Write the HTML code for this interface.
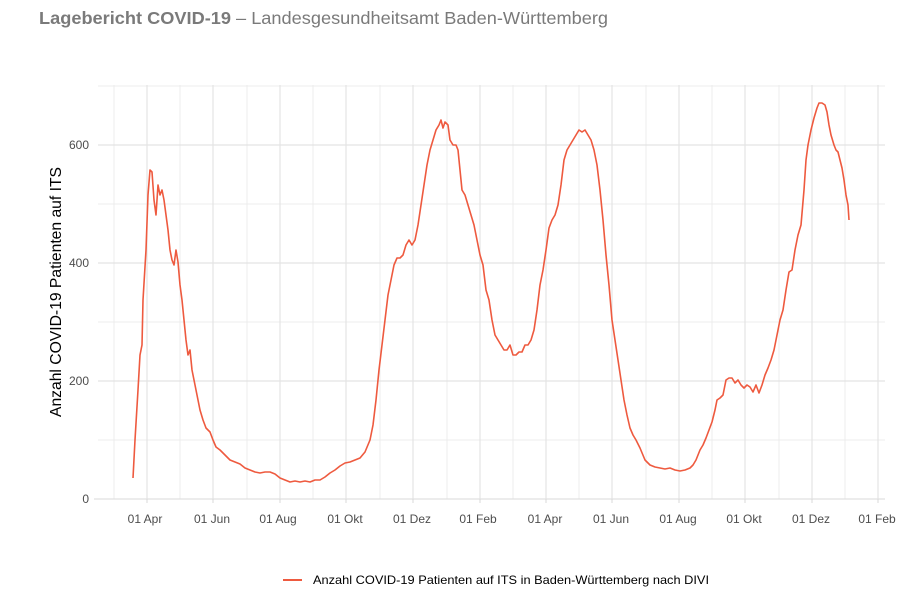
<!DOCTYPE html>
<html><head><meta charset="utf-8"><style>
html,body{margin:0;padding:0;background:#fff;}
svg{display:block;}
</style></head><body>
<svg width="899" height="597" xmlns="http://www.w3.org/2000/svg" font-family="Liberation Sans, sans-serif">
<text x="39" y="24" font-size="17.5" fill="#7a7a7a" textLength="569" lengthAdjust="spacingAndGlyphs"><tspan font-weight="bold">Lagebericht COVID-19</tspan> – Landesgesundheitsamt Baden-Württemberg</text>
<g stroke="#ececec" stroke-width="1">
<line x1="98" y1="440" x2="885" y2="440"/><line x1="98" y1="322" x2="885" y2="322"/><line x1="98" y1="204" x2="885" y2="204"/><line x1="98" y1="86" x2="885" y2="86"/>
<line x1="114" y1="85" x2="114" y2="499"/><line x1="180" y1="85" x2="180" y2="499"/><line x1="247" y1="85" x2="247" y2="499"/><line x1="313" y1="85" x2="313" y2="499"/><line x1="380" y1="85" x2="380" y2="499"/><line x1="447" y1="85" x2="447" y2="499"/><line x1="513" y1="85" x2="513" y2="499"/><line x1="579" y1="85" x2="579" y2="499"/><line x1="646" y1="85" x2="646" y2="499"/><line x1="712" y1="85" x2="712" y2="499"/><line x1="779" y1="85" x2="779" y2="499"/><line x1="845" y1="85" x2="845" y2="499"/>
</g>
<g stroke="#e4e4e4" stroke-width="1.2">
<line x1="98" y1="381" x2="885" y2="381"/><line x1="98" y1="263" x2="885" y2="263"/><line x1="98" y1="145" x2="885" y2="145"/>
<line x1="147" y1="85" x2="147" y2="499"/><line x1="213" y1="85" x2="213" y2="499"/><line x1="280" y1="85" x2="280" y2="499"/><line x1="346" y1="85" x2="346" y2="499"/><line x1="413" y1="85" x2="413" y2="499"/><line x1="480" y1="85" x2="480" y2="499"/><line x1="546" y1="85" x2="546" y2="499"/><line x1="612" y1="85" x2="612" y2="499"/><line x1="679" y1="85" x2="679" y2="499"/><line x1="745" y1="85" x2="745" y2="499"/><line x1="812" y1="85" x2="812" y2="499"/><line x1="878" y1="85" x2="878" y2="499"/>
</g>
<line x1="94" y1="499" x2="885" y2="499" stroke="#e0e0e0" stroke-width="1.2"/>
<g stroke="#d8d8d8"><line x1="147" y1="499" x2="147" y2="503"/><line x1="213" y1="499" x2="213" y2="503"/><line x1="280" y1="499" x2="280" y2="503"/><line x1="346" y1="499" x2="346" y2="503"/><line x1="413" y1="499" x2="413" y2="503"/><line x1="480" y1="499" x2="480" y2="503"/><line x1="546" y1="499" x2="546" y2="503"/><line x1="612" y1="499" x2="612" y2="503"/><line x1="679" y1="499" x2="679" y2="503"/><line x1="745" y1="499" x2="745" y2="503"/><line x1="812" y1="499" x2="812" y2="503"/><line x1="878" y1="499" x2="878" y2="503"/></g>
<g font-size="12" fill="#4d4d4d" text-anchor="end">
<text x="89" y="503">0</text><text x="89" y="385">200</text><text x="89" y="267">400</text><text x="89" y="149">600</text>
</g>
<g font-size="12" fill="#4d4d4d" text-anchor="middle">
<text x="145" y="523">01 Apr</text><text x="212" y="523">01 Jun</text><text x="278" y="523">01 Aug</text><text x="345" y="523">01 Okt</text><text x="412" y="523">01 Dez</text><text x="478" y="523">01 Feb</text><text x="545" y="523">01 Apr</text><text x="611" y="523">01 Jun</text><text x="678" y="523">01 Aug</text><text x="744" y="523">01 Okt</text><text x="811" y="523">01 Dez</text><text x="877" y="523">01 Feb</text>
</g>
<text transform="translate(61,292) rotate(-90)" font-size="15.5" fill="#000" text-anchor="middle" textLength="250" lengthAdjust="spacingAndGlyphs">Anzahl COVID-19 Patienten auf ITS</text>
<polyline fill="none" stroke="#ee5a3f" stroke-width="1.6" stroke-linejoin="round" points="133,478 135,440 138,390 140,355 142,345 143,300 146,250 148,195 150,170 152,172 154,200 156,215 158,185 160,195 162,190 164,200 166,215 168,230 170,250 172,260 174,265 176,250 178,262 180,285 182,300 184,320 186,340 188,355 190,350 192,370 195,385 198,400 200,410 203,420 206,428 210,432 213,440 216,447 220,450 225,455 230,460 235,462 240,464 245,468 250,470 255,472 260,473 265,472 270,472 275,474 280,478 285,480 290,482 295,481 300,482 305,481 310,482 315,480 320,480 325,477 330,473 335,470 340,466 345,463 350,462 355,460 360,458 365,452 370,440 373,425 376,400 379,370 382,345 385,320 388,295 391,280 394,265 397,258 400,258 403,255 406,245 409,240 412,245 415,240 418,225 421,205 424,185 427,165 430,150 433,140 436,130 439,125 441,120 443,128 445,122 448,125 450,140 453,145 456,145 458,150 460,170 462,190 465,195 468,205 471,215 474,225 477,240 480,255 483,265 486,290 489,300 492,320 495,335 498,340 501,345 504,350 507,350 510,345 513,355 516,355 519,352 522,352 525,345 528,345 531,340 534,330 537,310 540,285 543,270 546,250 549,228 552,220 555,215 558,205 561,185 564,160 567,150 570,145 573,140 576,135 579,130 582,132 585,130 588,135 591,140 594,150 597,165 600,190 603,220 606,255 609,285 612,320 615,340 618,360 621,380 624,400 627,415 630,428 633,435 636,440 640,448 645,460 650,465 655,467 660,468 665,469 670,468 675,470 680,471 685,470 690,468 693,465 696,460 700,450 703,445 706,438 709,430 712,422 715,410 717,400 720,398 723,395 726,380 729,378 732,378 735,383 738,380 741,385 744,388 747,385 750,387 753,392 756,385 759,393 762,385 765,375 768,368 771,360 774,350 777,335 780,320 783,310 786,290 789,272 792,270 795,250 798,235 801,225 804,190 806,160 808,145 811,130 814,118 817,108 819,103 822,103 825,105 827,112 829,125 831,135 834,145 836,150 838,152 840,160 842,168 844,180 846,195 848,205 849,220"/>
<line x1="283" y1="580" x2="302" y2="580" stroke="#ee5a3f" stroke-width="2"/>
<text x="313" y="584" font-size="12" fill="#000" textLength="396" lengthAdjust="spacingAndGlyphs">Anzahl COVID-19 Patienten auf ITS in Baden-Württemberg nach DIVI</text>
</svg>
</body></html>
